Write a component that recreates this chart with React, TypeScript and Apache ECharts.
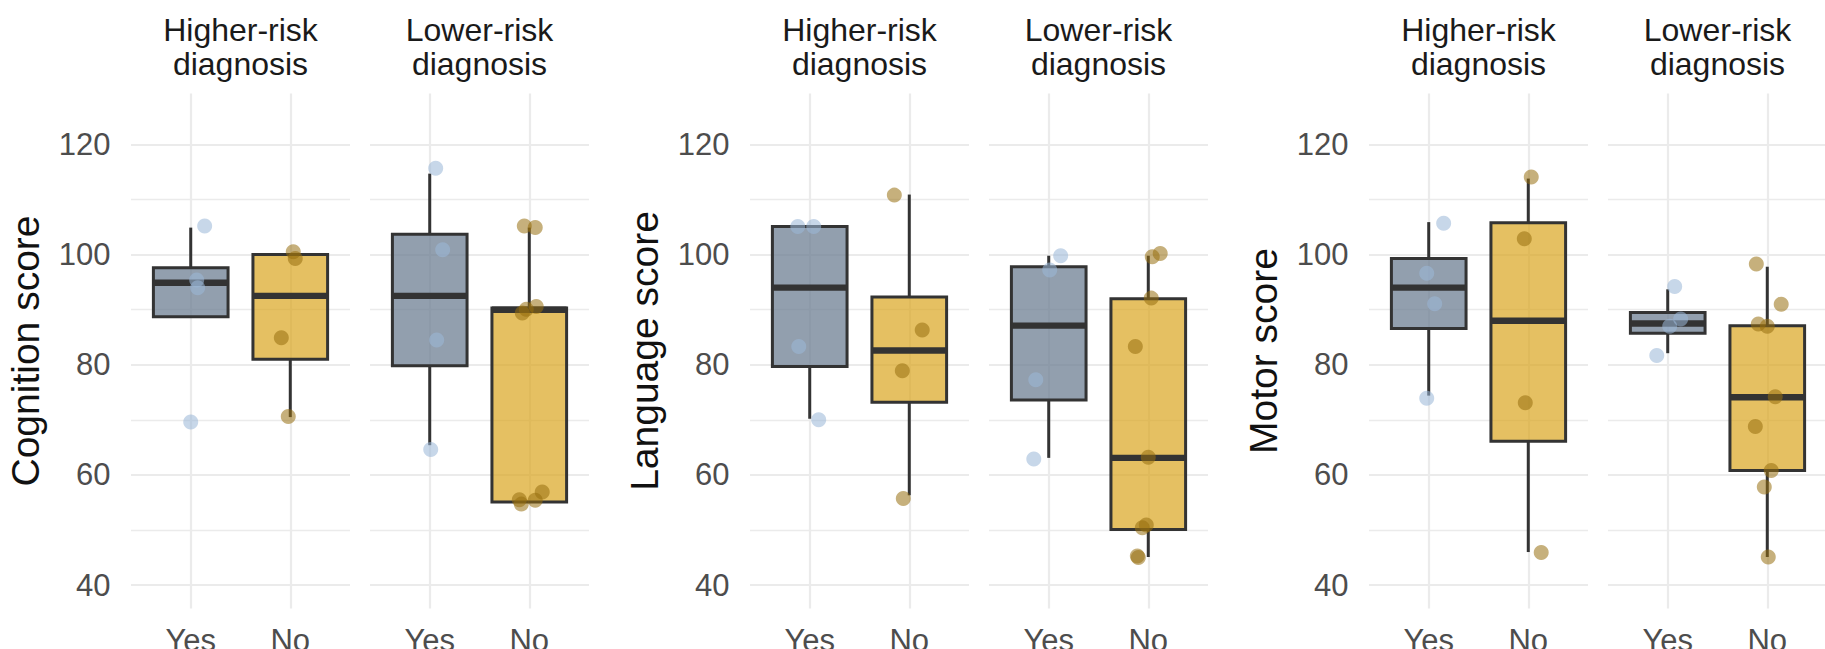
import React, { useEffect, useRef } from 'react';
import * as echarts from 'echarts';

// ---------- data ----------
const metricTitles = ['Cognition score', 'Language score', 'Motor score'];
const facetLabels = ['Higher-risk\ndiagnosis', 'Lower-risk\ndiagnosis'];
const groupLabels = ['Yes', 'No'];
const yTickValues = [40, 60, 80, 100, 120];
const yMinorValues = [50, 70, 90, 110];
const xCategoryPositions = [1, 2];

// box stats per group (Yes, No): [lower whisker, Q1, median, Q3, upper whisker]
const cognitionHigherBoxes = [
  [88.7, 88.7, 94.9, 97.6, 104.9],
  [70.5, 81.0, 92.5, 100.0, 100.0],
];
const cognitionLowerBoxes = [
  [65.4, 79.8, 92.5, 103.7, 114.7],
  [55.1, 55.1, 90.0, 90.3, 104.9],
];
const languageHigherBoxes = [
  [70.2, 79.7, 94.0, 105.1, 105.1],
  [56.3, 73.2, 82.6, 92.3, 110.9],
];
const languageLowerBoxes = [
  [63.1, 73.6, 87.1, 97.8, 99.8],
  [45.1, 50.1, 63.1, 92.0, 99.8],
];
const motorHigherBoxes = [
  [74.4, 86.6, 94.0, 99.3, 105.9],
  [46.0, 66.1, 88.0, 105.8, 113.8],
];
const motorLowerBoxes = [
  [82.1, 85.7, 87.5, 89.5, 93.7],
  [45.1, 60.8, 74.1, 87.1, 97.8],
];

// jittered points: [x position (1 = Yes, 2 = No), score]
const cognitionHigherYes = [[1.14, 105.2], [1.06, 95.4], [1.07, 94.0], [1.0, 69.6]];
const cognitionHigherNo = [[2.03, 100.5], [2.05, 99.3], [1.91, 84.9], [1.98, 70.6]];
const cognitionLowerYes = [[1.06, 115.7], [1.13, 100.9], [1.07, 84.5], [1.01, 64.6]];
const cognitionLowerNo = [
  [1.95, 105.2], [2.06, 104.9], [1.93, 89.4], [1.97, 90.1], [2.07, 90.6],
  [1.9, 55.5], [1.92, 54.7], [2.06, 55.4], [2.13, 56.9],
];
const languageHigherYes = [[0.88, 105.1], [1.04, 105.1], [0.89, 83.3], [1.09, 70.0]];
const languageHigherNo = [[1.85, 110.8], [2.13, 86.3], [1.93, 78.9], [1.94, 55.7]];
const languageLowerYes = [[1.12, 99.8], [1.01, 97.2], [0.87, 77.3], [0.85, 62.9]];
const languageLowerNo = [
  [2.04, 99.6], [2.12, 100.2], [2.03, 92.1], [1.87, 83.3], [2.0, 63.2],
  [1.98, 50.9], [1.94, 50.4], [1.89, 45.3], [1.9, 45.0],
];
const motorHigherYes = [[1.15, 105.7], [0.98, 96.6], [1.06, 91.1], [0.98, 73.9]];
const motorHigherNo = [[2.03, 114.1], [1.96, 102.9], [1.97, 73.1], [2.13, 45.9]];
const motorLowerYes = [[1.07, 94.2], [1.13, 88.3], [1.02, 87.0], [0.89, 81.7]];
const motorLowerNo = [
  [1.89, 98.3], [2.14, 91.0], [1.91, 87.4], [2.0, 87.0], [2.08, 74.2],
  [1.88, 68.8], [2.04, 60.8], [1.97, 57.8], [2.01, 45.1],
];

const boxesByPanel = [
  cognitionHigherBoxes, cognitionLowerBoxes,
  languageHigherBoxes, languageLowerBoxes,
  motorHigherBoxes, motorLowerBoxes,
];
const pointsByPanel = [
  [cognitionHigherYes, cognitionHigherNo], [cognitionLowerYes, cognitionLowerNo],
  [languageHigherYes, languageHigherNo], [languageLowerYes, languageLowerNo],
  [motorHigherYes, motorHigherNo], [motorLowerYes, motorLowerNo],
];

// ---------- styling / layout ----------
const FONT = '"Liberation Sans", Arial, Helvetica, sans-serif';
const boxFills = ['rgba(108,125,146,0.74)', 'rgba(218,165,32,0.70)'];
const pointColors = ['rgba(155,183,216,0.70)', 'rgba(150,110,15,0.68)'];
const gridLefts = [131, 370, 750, 989, 1369, 1608];
const PANEL_W = 219;
const PANEL_TOP = 93.5;
const PANEL_H = 515;
const GRID_COLOR = '#EBEBEB';

function buildOption() {
  const grid: any[] = [];
  const xAxis: any[] = [];
  const yAxis: any[] = [];
  const series: any[] = [];
  const graphic: any[] = [];

  gridLefts.forEach((left, g) => {
    const facet = g % 2;
    grid.push({
      left,
      top: PANEL_TOP,
      width: PANEL_W,
      height: PANEL_H,
      containLabel: false,
      outerBoundsMode: 'none',
    });
    xAxis.push({
      type: 'value',
      gridIndex: g,
      min: 0.4,
      max: 2.6,
      axisLine: { show: false },
      axisTick: { show: false, customValues: xCategoryPositions },
      axisLabel: {
        customValues: xCategoryPositions,
        formatter: (v: number) => groupLabels[Math.round(v) - 1] ?? '',
        fontSize: 31,
        fontFamily: FONT,
        color: '#4D4D4D',
        margin: 16,
      },
      splitLine: { show: true, lineStyle: { color: GRID_COLOR, width: 2.2 } },
    });
    yAxis.push({
      type: 'value',
      gridIndex: g,
      min: 35.75,
      max: 129.25,
      axisLine: { show: false },
      axisTick: { show: false, customValues: yTickValues },
      axisLabel: {
        show: facet === 0,
        customValues: yTickValues,
        fontSize: 31,
        fontFamily: FONT,
        color: '#4D4D4D',
        margin: 20.5,
      },
      splitLine: { show: true, lineStyle: { color: GRID_COLOR, width: 2.2 } },
    });

    // minor grid lines (kept beneath the boxes)
    series.push({
      type: 'scatter',
      xAxisIndex: g,
      yAxisIndex: g,
      data: [],
      z: 0,
      silent: true,
      markLine: {
        z: 0,
        silent: true,
        symbol: 'none',
        animation: false,
        label: { show: false },
        lineStyle: { color: GRID_COLOR, width: 1.3, type: 'solid' },
        emphasis: { disabled: true },
        data: yMinorValues.map((v) => ({ yAxis: v })),
      },
    });

    // boxes
    const boxes = boxesByPanel[g];
    series.push({
      type: 'custom',
      xAxisIndex: g,
      yAxisIndex: g,
      z: 2,
      silent: true,
      data: boxes.map((b, i) => [xCategoryPositions[i], ...b, i]),
      renderItem: (params: any, api: any) => {
        const u = api.value(0);
        const low = api.value(1);
        const q1 = api.value(2);
        const med = api.value(3);
        const q3 = api.value(4);
        const high = api.value(5);
        const ci = api.value(6);
        const half = 0.375;
        const tl = api.coord([u - half, q3]);
        const br = api.coord([u + half, q1]);
        const mL = api.coord([u - half, med]);
        const mR = api.coord([u + half, med]);
        const pHigh = api.coord([u, high]);
        const pQ3 = api.coord([u, q3]);
        const pQ1 = api.coord([u, q1]);
        const pLow = api.coord([u, low]);
        const stroke = '#333333';
        return {
          type: 'group',
          children: [
            { type: 'line', shape: { x1: pHigh[0], y1: pHigh[1], x2: pQ3[0], y2: pQ3[1] }, style: { stroke, lineWidth: 3 } },
            { type: 'line', shape: { x1: pLow[0], y1: pLow[1], x2: pQ1[0], y2: pQ1[1] }, style: { stroke, lineWidth: 3 } },
            {
              type: 'rect',
              shape: { x: tl[0], y: tl[1], width: br[0] - tl[0], height: br[1] - tl[1] },
              style: { fill: boxFills[ci], stroke, lineWidth: 3 },
            },
            { type: 'line', shape: { x1: mL[0], y1: mL[1], x2: mR[0], y2: mR[1] }, style: { stroke, lineWidth: 6.4 } },
          ],
        };
      },
    });

    // points
    const pts = pointsByPanel[g];
    const data: any[] = [];
    pts.forEach((grp, i) => {
      grp.forEach((p) => data.push({ value: p, itemStyle: { color: pointColors[i] } }));
    });
    series.push({
      type: 'scatter',
      xAxisIndex: g,
      yAxisIndex: g,
      z: 3,
      symbol: 'circle',
      symbolSize: 15,
      silent: true,
      data,
    });

    // strip label
    graphic.push({
      type: 'text',
      x: left + PANEL_W / 2,
      y: 46.5,
      style: {
        text: facetLabels[facet],
        textAlign: 'center',
        textVerticalAlign: 'middle',
        fontSize: 32,
        lineHeight: 34,
        fontFamily: FONT,
        fill: '#1A1A1A',
      },
    });
  });

  metricTitles.forEach((t, m) => {
    graphic.push({
      type: 'text',
      x: gridLefts[m * 2] - 105.5,
      y: PANEL_TOP + PANEL_H / 2,
      rotation: Math.PI / 2,
      style: {
        text: t,
        textAlign: 'center',
        textVerticalAlign: 'middle',
        fontSize: 39,
        fontFamily: FONT,
        fill: '#111111',
      },
    });
  });

  return {
    animation: false,
    backgroundColor: '#FFFFFF',
    grid,
    xAxis,
    yAxis,
    series,
    graphic,
  };
}

export default function App() {
  const ref = useRef<HTMLDivElement>(null);
  useEffect(() => {
    if (!ref.current) return;
    const chart = echarts.init(ref.current, undefined, { renderer: 'svg' });
    chart.setOption(buildOption() as any);
    return () => chart.dispose();
  }, []);
  return (
    <div
      ref={ref}
      style={{ position: 'absolute', left: 0, top: 0, width: 1825, height: 649, background: '#fff' }}
    />
  );
}
